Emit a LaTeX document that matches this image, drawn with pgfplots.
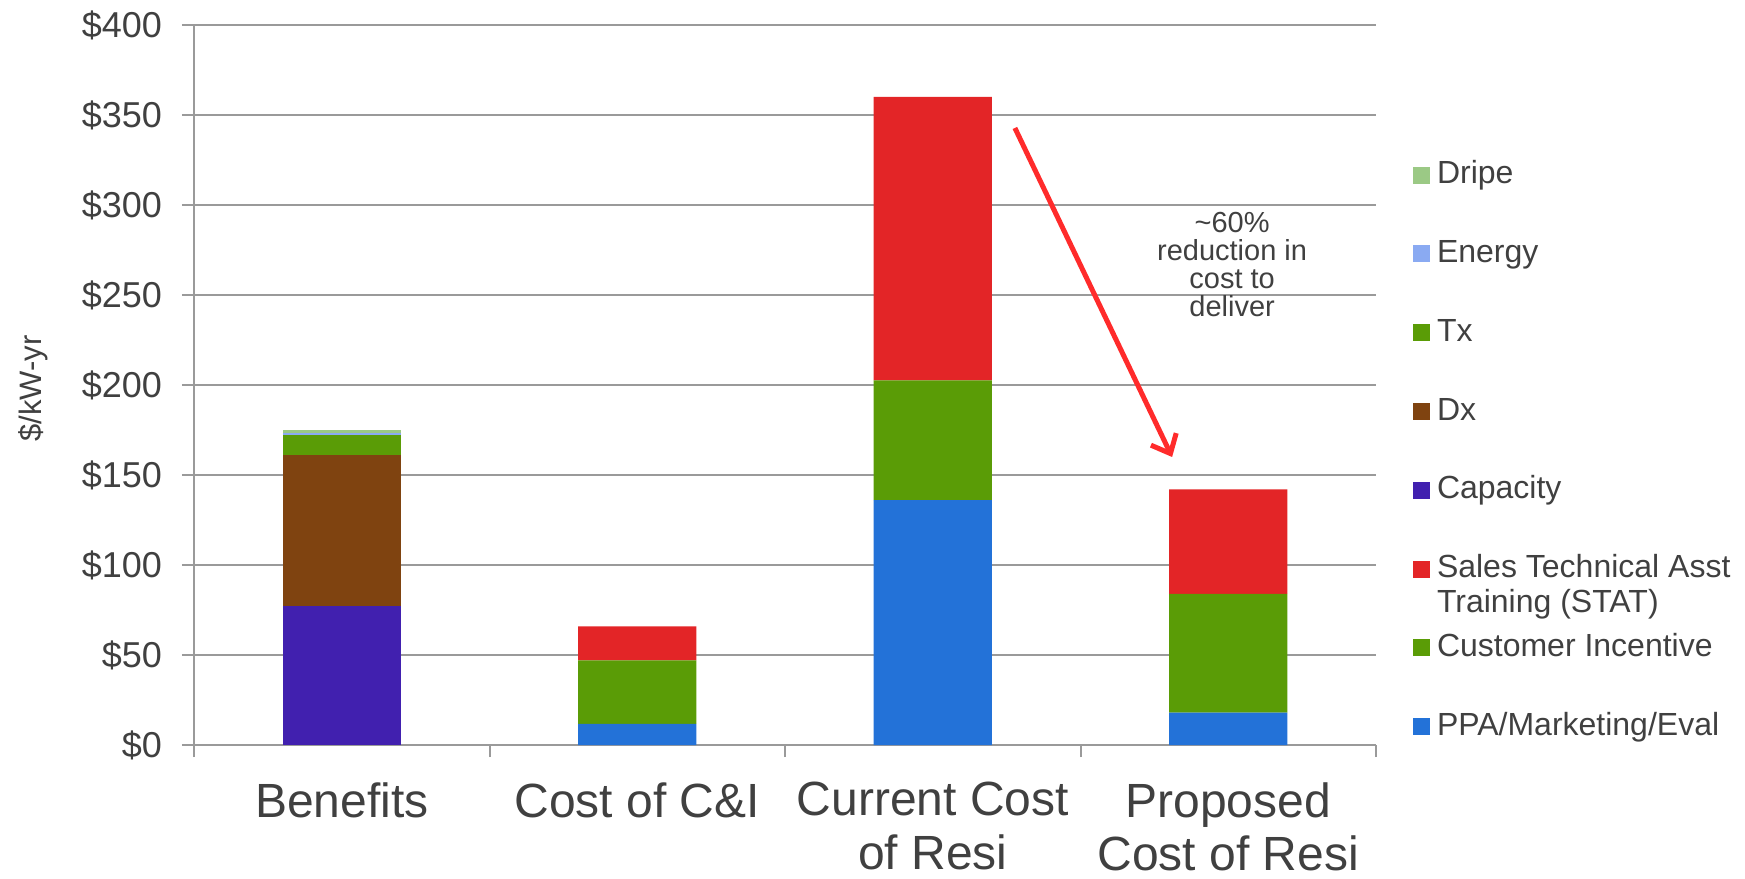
\documentclass[border=0pt]{standalone}
\usepackage{pgfplots}
\pgfplotsset{compat=1.18}
\usepackage{fontspec}
\setmainfont{Liberation Sans}
\usetikzlibrary{arrows.meta}
\definecolor{txt}{HTML}{404040}
\definecolor{cDripe}{HTML}{9BC985}
\definecolor{cEnergy}{HTML}{8AAAF2}
\definecolor{cTx}{HTML}{5A9C06}
\definecolor{cDx}{HTML}{7F4310}
\definecolor{cCap}{HTML}{4120AF}
\definecolor{cSTAT}{HTML}{E32527}
\definecolor{cCust}{HTML}{5A9C06}
\definecolor{cPPA}{HTML}{2372D8}
\definecolor{gridc}{HTML}{9A9A9A}
\definecolor{arrowc}{HTML}{FF2B2B}
\begin{document}
\begin{tikzpicture}
\path[use as bounding box] (-97pt,-66.5pt) rectangle (775.5pt,372.5pt);
\begin{axis}[
  scale only axis, width=591pt, height=360pt,
  at={(0pt,0pt)}, anchor=south west,
  ybar stacked, bar width=0.4,
  xmin=-0.5, xmax=3.5, ymin=0, ymax=400,
  clip=false,
  axis lines*=left,
  axis line style={-, draw=gridc, line width=1pt},
  ymajorgrids, grid style={draw=gridc, line width=1pt},
  tick align=outside, major tick length=6pt,
  tick style={draw=gridc, line width=1pt},
  ytick={0,50,100,150,200,250,300,350,400},
  yticklabels={\$0,\$50,\$100,\$150,\$200,\$250,\$300,\$350,\$400},
  yticklabel style={font=\fontsize{18}{20}\selectfont, text=txt, xshift=-6.5pt},
  xtick={-0.5,0.5,1.5,2.5,3.5},
  xticklabels={,,,,},
  extra x ticks={0,1,2,3},
  extra x tick labels={Benefits,Cost of C\&I,{Current Cost\\of Resi},{Proposed\\Cost of Resi}},
  extra x tick style={major tick length=0pt, tick style={draw=none}},
  xticklabel style={font=\fontsize{24}{26.7}\selectfont, text=txt, align=center, anchor=north, inner sep=0pt, yshift=-18.5pt},
  ylabel={\$/kW-yr},
  ylabel style={font=\fontsize{15.5}{18}\selectfont, text=txt, at={(axis description cs:-0.1362,0.495)}, anchor=center},
  reverse legend,
  legend cell align=left,
  legend style={at={(axis description cs:1.0313,0.813)}, anchor=north west,
    draw=none, fill=none, inner sep=0pt, outer sep=0pt,
    font=\fontsize{16}{17.5}\selectfont, text=txt, row sep=23.9pt,
    nodes={inner xsep=3.5pt, inner ysep=0pt, text height=12pt, text depth=3.5pt}},
  legend image code/.code={\fill[#1] (0pt,-4.25pt) rectangle (8.5pt,4.25pt);},
]
\addplot[fill=cPPA, draw=none] coordinates {(0,0) (1,11.8) (2,136) (3,18)};
\addlegendentry{PPA/Marketing/Eval}
\addplot[fill=cCust, draw=none] coordinates {(0,0) (1,35.2) (2,66.5) (3,66)};
\addlegendentry{Customer Incentive}
\addplot[fill=cSTAT, draw=none] coordinates {(0,0) (1,18.9) (2,157.5) (3,58)};
\addlegendentry{\begin{tabular}[t]{@{}l@{}}Sales Technical Asst\\Training (STAT)\end{tabular}}
\addplot[fill=cCap, draw=none] coordinates {(0,77.2) (1,0) (2,0) (3,0)};
\addlegendentry{Capacity}
\addplot[fill=cDx, draw=none] coordinates {(0,83.9) (1,0) (2,0) (3,0)};
\addlegendentry{Dx}
\addplot[fill=cTx, draw=none] coordinates {(0,10.9) (1,0) (2,0) (3,0)};
\addlegendentry{Tx}
\addplot[fill=cEnergy, draw=none] coordinates {(0,1.5) (1,0) (2,0) (3,0)};
\addlegendentry{Energy}
\addplot[fill=cDripe, draw=none] coordinates {(0,1.5) (1,0) (2,0) (3,0)};
\addlegendentry{Dripe}
\draw[arrowc, line width=2.5pt, -{Straight Barb[length=8pt,width=14pt]}] (axis cs:2.278,342.8) -- (axis cs:2.810,160);
\node[anchor=north, inner sep=0pt, align=center, font=\fontsize{14.5}{14}\selectfont, text=txt] at (axis cs:3.013,296) {\textasciitilde60\%\\reduction in\\cost to\\deliver};
\end{axis}
\end{tikzpicture}
\end{document}
